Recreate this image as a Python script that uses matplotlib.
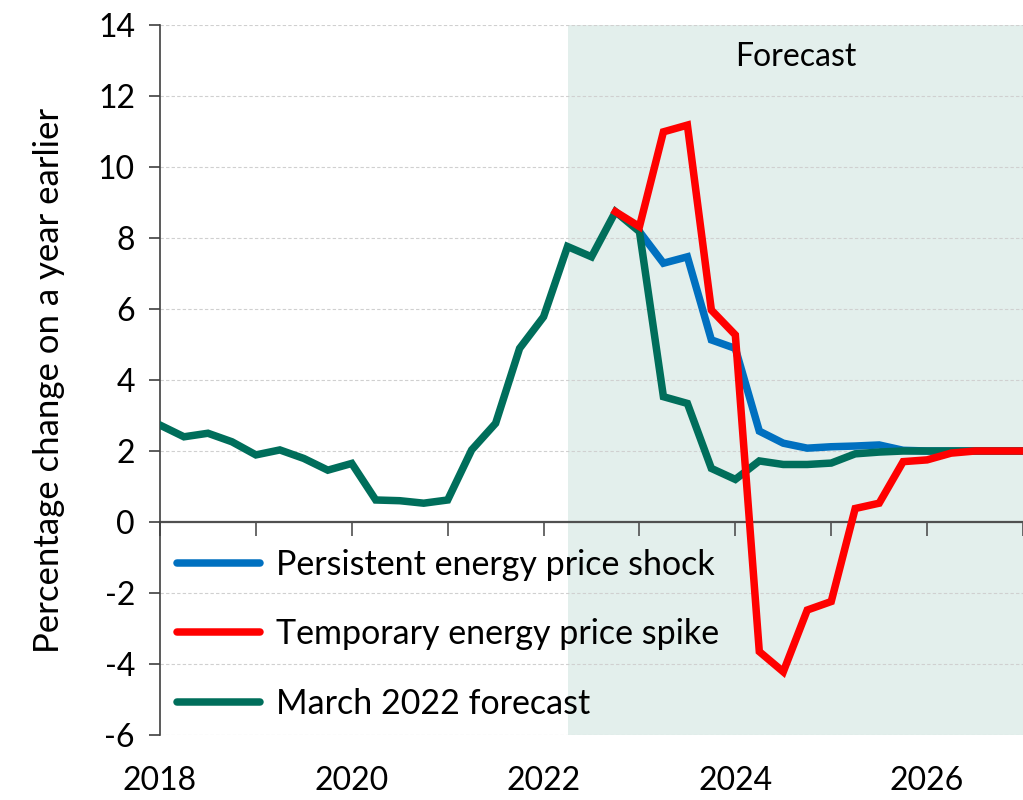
import numpy as np
import matplotlib
matplotlib.use("Agg")
import matplotlib.pyplot as plt
from matplotlib.lines import Line2D

plt.rcParams['font.family'] = ['Lato', 'DejaVu Sans']

# ---- data (quarterly, 2018 Q1 .. 2027 Q1) ----
quarters = [2018 + i / 4 for i in range(37)]

march_2022 = [2.73, 2.40, 2.50, 2.26, 1.89, 2.03, 1.79, 1.46, 1.65, 0.62,
              0.60, 0.53, 0.62, 2.03, 2.78, 4.89, 5.78, 7.76, 7.47, 8.74,
              8.18, 3.53, 3.34, 1.51, 1.20, 1.72, 1.62, 1.62, 1.66, 1.92,
              1.97, 2.00, 2.00, 2.00, 2.00, 2.00, 2.00]

# persistent shock starts at 2023 Q1 (index 20)
persistent_start = 20
persistent = [8.18, 7.29, 7.47, 5.13, 4.89, 2.56, 2.22, 2.08, 2.12, 2.14,
              2.17, 2.02, 2.00, 2.00, 2.00, 2.00, 2.00]

# temporary spike starts at 2022 Q4 (index 19)
temporary_start = 19
temporary = [8.74, 8.32, 10.99, 11.18, 5.97, 5.27, -3.65, -4.22, -2.48, -2.24,
             0.38, 0.53, 1.70, 1.75, 1.94, 2.00, 2.00, 2.00]

forecast_start = 2022.25
xtick_years = [2018, 2020, 2022, 2024, 2026]
minor_years = list(range(2018, 2028))
yticks = list(range(-6, 15, 2))

labels = ["Persistent energy price shock", "Temporary energy price spike",
          "March 2022 forecast"]
col_blue, col_red, col_green = '#0070c0', '#ff0000', '#006e5b'

# ---- figure ----
fig = plt.figure(figsize=(10.23, 8.0), dpi=100)
ax = fig.add_axes([160 / 1023, 1 - 735 / 800, 863 / 1023, 710 / 800])
ax.set_xlim(2018, 2027)
ax.set_ylim(-6, 14)

ax.axvspan(forecast_start, 2027, color='#e3efec', zorder=0, lw=0)
ax.text(2024.63, 13.1, "Forecast", fontsize=23, ha='center', va='center')

for y in yticks:
    if y != 0:
        ax.axhline(y, color='#d0d0d0', lw=0.8, ls=(0, (3, 2)), zorder=1)

lw = 5.4
ax.plot(quarters[persistent_start:persistent_start + len(persistent)], persistent,
        color=col_blue, lw=lw, zorder=3, solid_joinstyle='miter')
ax.plot(quarters, march_2022, color=col_green, lw=lw, zorder=4, solid_joinstyle='miter')
ax.plot(quarters[temporary_start:temporary_start + len(temporary)], temporary,
        color=col_red, lw=lw, zorder=5, solid_joinstyle='miter')

# axes styling
for s in ['top', 'right', 'bottom']:
    ax.spines[s].set_visible(False)
ax.spines['left'].set_color('#404040')
ax.spines['left'].set_linewidth(1.2)
ax.set_yticks(yticks)
ax.set_yticklabels([str(v) for v in yticks])
ax.tick_params(axis='y', direction='out', length=8, width=1.2, color='#404040',
               labelsize=23, pad=10)
ax.set_xticks(xtick_years)
ax.set_xticklabels([str(v) for v in xtick_years])
ax.tick_params(axis='x', length=0, labelsize=23, pad=22)

# zero line with yearly ticks
sec = ax.secondary_xaxis(6 / 20)
sec.set_xticks(minor_years)
sec.tick_params(axis='x', direction='out', length=10, width=1.2, color='#505050',
                labelbottom=False)
sec.spines['bottom'].set_color('#505050')
sec.spines['bottom'].set_linewidth(1.6)

ax.set_ylabel("Percentage change on a year earlier", fontsize=25, labelpad=24)

handles = [Line2D([], [], color=c, lw=lw, solid_capstyle='round')
           for c in (col_blue, col_red, col_green)]
leg = ax.legend(handles, labels, loc='upper left', bbox_to_anchor=(-0.008, 0.296),
                frameon=False, fontsize=24.5, handlelength=2.45, handletextpad=0.45,
                labelspacing=1.1, borderaxespad=0.3)

fig.savefig("out.png", dpi=100)
